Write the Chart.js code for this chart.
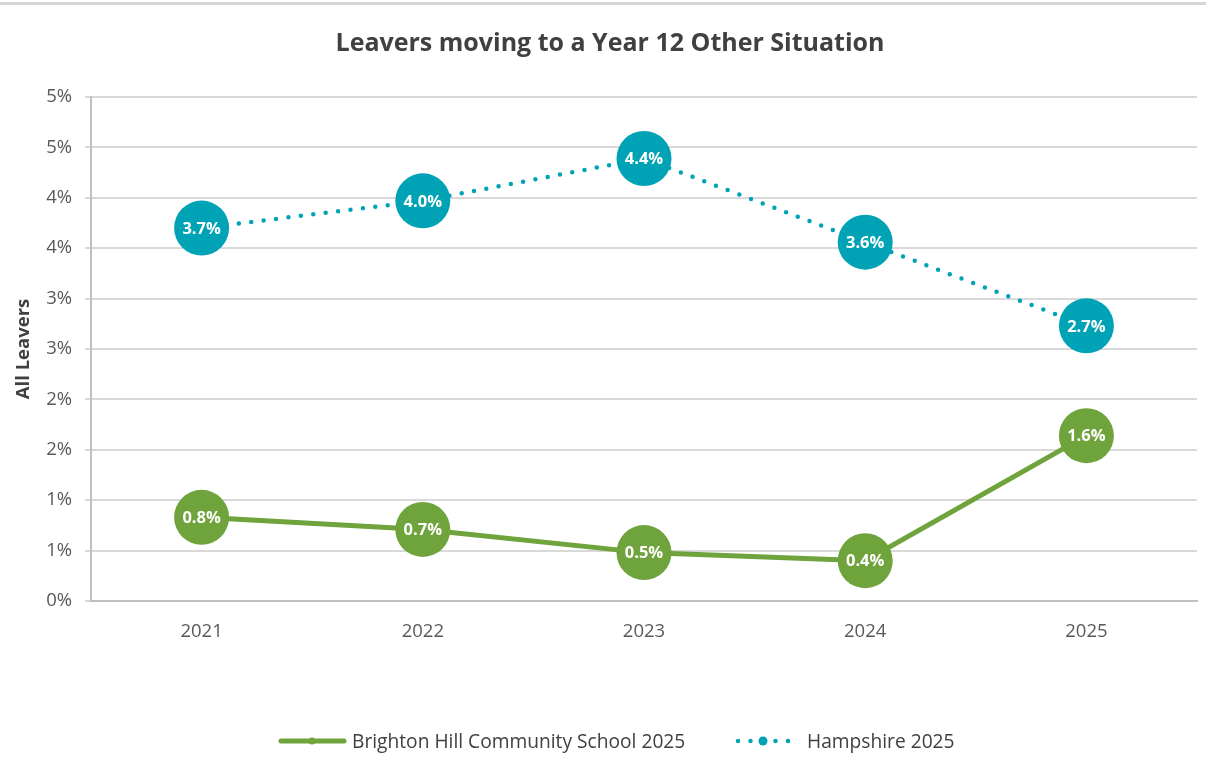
<!DOCTYPE html>
<html>
<head>
<meta charset="utf-8">
<script src="https://cdn.jsdelivr.net/npm/chart.js@4.4.1/dist/chart.umd.min.js"></script>
<style>
  html, body { margin: 0; padding: 0; background: #fff; }
  #wrap { position: relative; width: 1220px; height: 771px; overflow: hidden; }
  #topline { position: absolute; left: 0; top: 2px; width: 1206px; height: 3px; background: #d6d6d6; }
  #c { position: absolute; left: 0; top: 0; }
  .item { position: absolute; top: 727px; display: flex; align-items: center;
    font-family: "Open Sans", "Noto Sans", sans-serif; font-size: 19.2px; color: #404040; white-space: nowrap; }
  .item svg { margin-right: 5px; }
</style>
</head>
<body>
<div id="wrap">
  <div id="topline"></div>
  <canvas id="c" width="1220" height="771"></canvas>
  <div id="legend"></div>
</div>
<script>
const categories = ["2021", "2022", "2023", "2024", "2025"];
const schoolName = "Brighton Hill Community School 2025";
const schoolValues = [0.83, 0.71, 0.48, 0.40, 1.64];
const countyName = "Hampshire 2025";
const countyValues = [3.70, 3.97, 4.39, 3.56, 2.73];
const chartTitle = "Leavers moving to a Year 12 Other Situation";
const yAxisTitle = "All Leavers";
const yMin = 0, yMax = 5, yStep = 0.5;

const GREEN = "#6FA33B";
const TEAL = "#00A3B5";
const FONT = '"Open Sans", "Noto Sans", sans-serif';

const valueLabels = {
  id: "valueLabels",
  afterDatasetsDraw(chart) {
    const ctx = chart.ctx;
    ctx.save();
    ctx.fillStyle = "#ffffff";
    ctx.font = "bold 16.5px " + FONT;
    ctx.textAlign = "center";
    ctx.textBaseline = "middle";
    chart.data.datasets.forEach((ds, i) => {
      const meta = chart.getDatasetMeta(i);
      meta.data.forEach((pt, j) => {
        ctx.fillText(ds.data[j].toFixed(1) + "%", pt.x, pt.y + 1);
      });
    });
    ctx.restore();
  }
};

// centre the title on the full canvas width (not only inside the layout padding)
const fullWidthTitle = {
  id: "fullWidthTitle",
  afterLayout(chart) {
    const tb = chart.titleBlock;
    if (tb) { tb.left = 0; tb.right = chart.width; tb.width = chart.width; }
  }
};

const chart = new Chart(document.getElementById("c"), {
  type: "line",
  data: {
    labels: categories,
    datasets: [
      {
        label: countyName,
        data: countyValues,
        borderColor: TEAL,
        backgroundColor: TEAL,
        borderWidth: 4.5,
        borderDash: [0, 12.5],
        borderCapStyle: "round",
        pointRadius: 27.5,
        pointHoverRadius: 27.5,
        pointBackgroundColor: TEAL,
        pointBorderWidth: 0,
        tension: 0
      },
      {
        label: schoolName,
        data: schoolValues,
        borderColor: GREEN,
        backgroundColor: GREEN,
        borderWidth: 5,
        pointRadius: 27.5,
        pointHoverRadius: 27.5,
        pointBackgroundColor: GREEN,
        pointBorderWidth: 0,
        tension: 0
      }
    ]
  },
  options: {
    responsive: false,
    animation: false,
    events: [],
    layout: { autoPadding: false, padding: { left: 0, right: 23, top: 0, bottom: 0 } },
    plugins: {
      legend: { display: false },
      tooltip: { enabled: false },
      title: {
        display: true,
        text: chartTitle,
        color: "#404040",
        font: { family: FONT, size: 25, weight: "bold" },
        padding: { top: 29, bottom: 38 }
      }
    },
    scales: {
      x: {
        offset: true,
        grid: { display: false, drawTicks: false },
        border: { display: true, color: "#BFBFBF", width: 2 },
        ticks: { color: "#595959", font: { family: FONT, size: 18.5 }, padding: 20 },
        afterFit(s) { s.height = 170; }
      },
      y: {
        min: yMin, max: yMax,
        ticks: {
          stepSize: yStep,
          color: "#595959",
          font: { family: FONT, size: 18.5 },
          padding: 13,
          callback: v => Math.round(v) + "%"
        },
        grid: { color: "#D9D9D9", lineWidth: 2, tickLength: 6, tickColor: "#D9D9D9" },
        border: { display: true, color: "#BFBFBF", width: 2 },
        title: {
          display: true,
          text: yAxisTitle,
          color: "#404040",
          font: { family: FONT, size: 18.5, weight: "bold" },
          padding: { top: 13, bottom: 0 }
        },
        afterFit(s) { s.width = 91; }
      }
    }
  },
  plugins: [valueLabels, fullWidthTitle]
});

// legend
const legend = document.getElementById("legend");
function addItem(name, svg, left) {
  const d = document.createElement("div");
  d.className = "item";
  d.style.left = left + "px";
  d.innerHTML = svg + "<span>" + name + "</span>";
  legend.appendChild(d);
}
addItem(schoolName,
  '<svg width="69" height="12"><line x1="3" y1="6" x2="66" y2="6" stroke="' + GREEN + '" stroke-width="5" stroke-linecap="round"/><circle cx="34" cy="6" r="3.5" fill="' + GREEN + '"/></svg>', 278);
addItem(countyName,
  '<svg width="69" height="12"><line x1="5" y1="6" x2="66" y2="6" stroke="' + TEAL + '" stroke-width="4.5" stroke-linecap="round" stroke-dasharray="0 12.5"/><circle cx="30" cy="6" r="4.5" fill="' + TEAL + '"/></svg>', 733);
</script>
</body>
</html>
